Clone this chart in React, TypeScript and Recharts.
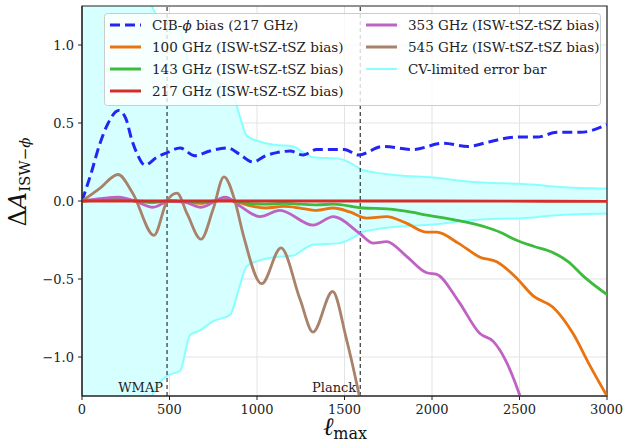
import React from 'react';
import { ComposedChart, Line, Area, XAxis, YAxis, CartesianGrid, ReferenceLine, ReferenceArea } from 'recharts';

// CIB-phi bias (217 GHz)
const CIB_ELL = [0, 50, 100, 150, 210, 250, 285, 312, 360, 427, 486, 560, 645, 730, 834, 900, 977, 1050, 1113, 1190, 1265, 1340, 1436, 1500, 1580, 1720, 1891, 2063, 2206, 2330, 2480, 2600, 2714, 2846, 3000];
const CIB_VAL = [0, 0.17, 0.36, 0.5, 0.58, 0.53, 0.39, 0.31, 0.23, 0.28, 0.31, 0.34, 0.29, 0.32, 0.34, 0.3, 0.25, 0.29, 0.31, 0.32, 0.295, 0.33, 0.33, 0.33, 0.295, 0.35, 0.33, 0.37, 0.35, 0.38, 0.41, 0.41, 0.44, 0.44, 0.49];

// ISW-tSZ-tSZ bias per channel
const F100_ELL = [0, 200, 400, 500, 680, 820, 900, 960, 1050, 1150, 1246, 1340, 1436, 1530, 1627, 1741, 1850, 1970, 2027, 2150, 2274, 2370, 2480, 2580, 2690, 2806, 2900, 3000];
const F100_VAL = [0, 0.012, -0.01, 0, -0.015, 0.008, -0.01, -0.03, -0.045, -0.035, -0.045, -0.06, -0.045, -0.07, -0.11, -0.1, -0.14, -0.2, -0.2, -0.27, -0.36, -0.39, -0.49, -0.61, -0.68, -0.85, -1.05, -1.25];

const F143_ELL = [0, 200, 400, 500, 680, 820, 950, 1050, 1150, 1246, 1340, 1436, 1606, 1741, 1850, 1970, 2122, 2314, 2389, 2480, 2580, 2690, 2780, 2863, 3000];
const F143_VAL = [0, 0.008, -0.005, 0, -0.008, 0.005, -0.015, -0.02, -0.015, -0.02, -0.025, -0.02, -0.045, -0.05, -0.065, -0.09, -0.12, -0.17, -0.2, -0.25, -0.29, -0.33, -0.39, -0.48, -0.6];

const F217_ELL = [0, 1000, 2000, 3000];
const F217_VAL = [0, 0, 0, -0.003];

const F353_ELL = [0, 100, 210, 300, 406, 500, 580, 680, 820, 900, 1017, 1131, 1320, 1436, 1589, 1665, 1741, 1850, 1970, 2027, 2150, 2274, 2350, 2420, 2503, 2560];
const F353_VAL = [0, 0.015, 0.025, 0, -0.04, 0, -0.005, -0.04, 0.025, -0.03, -0.1, -0.06, -0.155, -0.1, -0.21, -0.27, -0.26, -0.35, -0.46, -0.47, -0.64, -0.85, -0.9, -1.02, -1.25, -1.45];

const F545_ELL = [0, 100, 206, 290, 411, 486, 543, 600, 680, 750, 811, 874, 920, 1027, 1137, 1246, 1320, 1432, 1510, 1585, 1630];
const F545_VAL = [0, 0.08, 0.17, 0.05, -0.22, 0, 0.05, -0.08, -0.245, -0.05, 0.155, 0, -0.21, -0.53, -0.3, -0.63, -0.84, -0.58, -0.88, -1.25, -1.5];

// cosmic-variance limited error (half width, symmetric about 0)
const CV_ELL = [0, 100, 200, 300, 400, 486, 560, 617, 674, 750, 846, 900, 940, 1017, 1100, 1208, 1265, 1320, 1474, 1540, 1600, 1663, 1800, 2008, 2200, 2580, 2731, 3000];
const CV_ERR = [8, 4.5, 2.6, 1.7, 1.25, 1.12, 1.09, 0.86, 0.83, 0.77, 0.73, 0.55, 0.42, 0.38, 0.36, 0.35, 0.31, 0.28, 0.27, 0.24, 0.2, 0.185, 0.165, 0.15, 0.125, 0.105, 0.09, 0.08];

const X_TICKS = [0, 500, 1000, 1500, 2000, 2500, 3000];
const Y_TICKS = [-1, -0.5, 0, 0.5, 1];
const WMAP_ELL = 486;
const PLANCK_ELL = 1590;

const FONT = 'DejaVu Serif, Liberation Serif, serif';

const C = {
  cib: '#2424f5',
  f100: '#e8730f',
  f143: '#3cbb3c',
  f217: '#d62d28',
  f353: '#bf62c4',
  f545: '#a8826a',
  cvLine: '#88ffff',
  cvFill: '#d6ffff',
};

const toRows = (xs: number[], ys: number[]) => xs.map((x, i) => ({ x, y: ys[i] }));

const cvRows = CV_ELL.map((x, i) => ({ x, band: [-CV_ERR[i], CV_ERR[i]] }));

const LEGEND_LEFT = [
  { label: <>CIB-<tspan fontStyle="italic">ϕ</tspan> bias (217 GHz)</>, color: C.cib, dash: true },
  { label: <>100 GHz (ISW-tSZ-tSZ bias)</>, color: C.f100 },
  { label: <>143 GHz (ISW-tSZ-tSZ bias)</>, color: C.f143 },
  { label: <>217 GHz (ISW-tSZ-tSZ bias)</>, color: C.f217 },
];
const LEGEND_RIGHT = [
  { label: <>353 GHz (ISW-tSZ-tSZ bias)</>, color: C.f353 },
  { label: <>545 GHz (ISW-tSZ-tSZ bias)</>, color: C.f545 },
  { label: <>CV-limited error bar</>, color: C.cvLine, thin: true },
];

function LegendItem({ x, y, item }: any) {
  return (
    <g>
      <line x1={x} x2={x + 31} y1={y} y2={y} stroke={item.color} strokeWidth={item.thin ? 2 : 3}
        strokeDasharray={item.dash ? '10 5' : undefined} />
      <text x={x + 42} y={y + 5} fontSize={13.5} style={{ fontFamily: FONT }} fill="#222">{item.label}</text>
    </g>
  );
}

export default function App() {
  const lineProps = { type: 'monotone' as const, dot: false, isAnimationActive: false, strokeWidth: 2.8, dataKey: 'y' };
  const tickStyle = { fontSize: 13, fill: '#222', style: { fontFamily: FONT } };
  return (
    <div style={{ position: 'absolute', left: 0, top: 0, width: 623, height: 444, background: '#fff', fontFamily: FONT }}>
      <ComposedChart width={623} height={444} margin={{ top: 6, right: 16, bottom: 18, left: 22 }}>
        <CartesianGrid stroke="#e3e3e3" strokeWidth={1} horizontalValues={Y_TICKS} verticalValues={X_TICKS} />
        <XAxis type="number" dataKey="x" domain={[0, 3000]} ticks={X_TICKS} allowDataOverflow height={30}
          tickSize={4} tickMargin={5} stroke="#222" tick={tickStyle} />
        <YAxis type="number" domain={[-1.25, 1.25]} ticks={Y_TICKS} allowDataOverflow width={60}
          tickSize={4} tickMargin={4} stroke="#222" tick={tickStyle}
          tickFormatter={(v: number) => v.toFixed(1).replace('-', '−')} />
        <Area data={cvRows} dataKey="band" type="monotone" fill={C.cvFill} fillOpacity={1}
          stroke={C.cvLine} strokeWidth={2} isAnimationActive={false} />
        <ReferenceLine x={WMAP_ELL} stroke="#333" strokeDasharray="4 3" strokeWidth={1.2}
          label={{ value: 'WMAP', position: 'insideBottomRight', offset: 4, fontSize: 13, fill: '#222', style: { fontFamily: FONT } }} />
        <ReferenceLine x={PLANCK_ELL} stroke="#333" strokeDasharray="4 3" strokeWidth={1.2}
          label={{ value: 'Planck', position: 'insideBottomRight', offset: 4, fontSize: 13, fill: '#222', style: { fontFamily: FONT } }} />
        <Line data={toRows(CIB_ELL, CIB_VAL)} {...lineProps} stroke={C.cib} strokeWidth={3} strokeDasharray="10 5" />
        <Line data={toRows(F100_ELL, F100_VAL)} {...lineProps} stroke={C.f100} />
        <Line data={toRows(F143_ELL, F143_VAL)} {...lineProps} stroke={C.f143} />
        <Line data={toRows(F353_ELL, F353_VAL)} {...lineProps} stroke={C.f353} />
        <Line data={toRows(F545_ELL, F545_VAL)} {...lineProps} stroke={C.f545} />
        <Line data={toRows(F217_ELL, F217_VAL)} {...lineProps} stroke={C.f217} />
        <ReferenceArea x1={0} x2={3000} y1={-1.25} y2={1.25} fill="none" stroke="#222" strokeWidth={1.2} ifOverflow="visible" />
      </ComposedChart>
      <svg width={623} height={444} style={{ position: 'absolute', left: 0, top: 0, pointerEvents: 'none' }}>
        <rect x={104.5} y={13.5} width={496} height={92} rx={3} fill="#fff" fillOpacity={0.8} stroke="#cccccc" />
        {LEGEND_LEFT.map((it, i) => <LegendItem key={i} x={110} y={25 + i * 22} item={it} />)}
        {LEGEND_RIGHT.map((it, i) => <LegendItem key={i} x={366} y={25 + i * 22} item={it} />)}
        <text transform="translate(26,182) rotate(-90)" textAnchor="middle" style={{ fontFamily: FONT }} fill="#111">
          <tspan fontSize={24}>Δ</tspan>
          <tspan fontSize={24} fontStyle="italic">A</tspan>
          <tspan fontSize={15} dy={4}>ISW−</tspan>
          <tspan fontSize={15} fontStyle="italic">ϕ</tspan>
        </text>
        <text x={345} y={435} textAnchor="middle" style={{ fontFamily: FONT }} fill="#111">
          <tspan fontSize={25} fontStyle="italic">ℓ</tspan>
          <tspan fontSize={16} dy={4}>max</tspan>
        </text>
      </svg>
    </div>
  );
}
